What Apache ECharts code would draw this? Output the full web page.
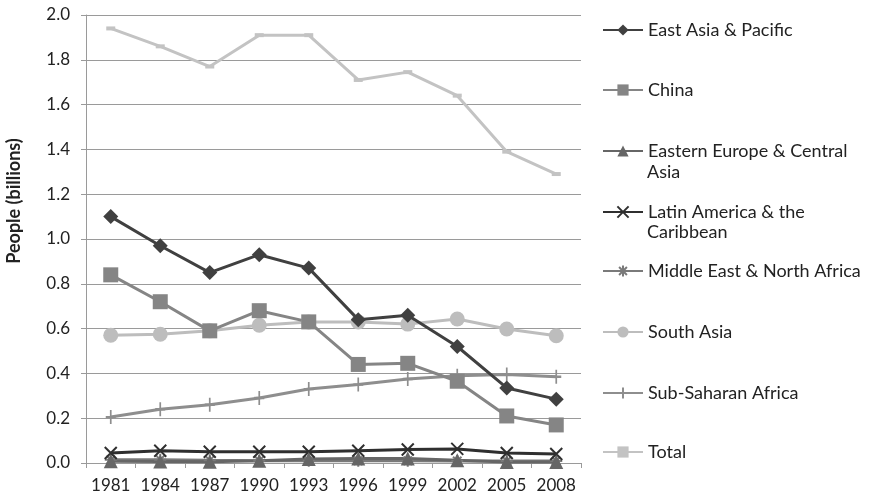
<!DOCTYPE html>
<html><head><meta charset="utf-8">
<script src="https://cdn.jsdelivr.net/npm/echarts@6/dist/echarts.min.js"></script>
<style>html,body{margin:0;padding:0;background:#fff}#c{width:869px;height:500px}</style>
</head><body><div id="c"></div>
<script>
const years = ['1981','1984','1987','1990','1993','1996','1999','2002','2005','2008'];
const eastAsia = [1.10,0.97,0.85,0.93,0.87,0.64,0.66,0.52,0.335,0.285];
const china = [0.84,0.72,0.59,0.68,0.63,0.44,0.445,0.365,0.21,0.17];
const easternEurope = [0.008,0.007,0.006,0.01,0.018,0.02,0.02,0.012,0.005,0.004];
const latinAmerica = [0.045,0.055,0.05,0.05,0.05,0.055,0.06,0.063,0.045,0.04];
const middleEast = [0.014,0.015,0.012,0.01,0.01,0.01,0.01,0.009,0.009,0.009];
const southAsia = [0.57,0.575,0.59,0.615,0.63,0.63,0.62,0.643,0.598,0.568];
const subSaharan = [0.205,0.24,0.26,0.29,0.33,0.35,0.375,0.39,0.395,0.385];
const total = [1.94,1.86,1.77,1.91,1.91,1.71,1.745,1.64,1.39,1.29];
const yTitle = 'People (billions)';

const FONT = 'Lato';
const chart = echarts.init(document.getElementById('c'));
const X_PATH = 'path://M0,0 L10,10 M10,0 L0,10';
const PLUS_PATH = 'path://M5,0 L5,10 M0,5 L10,5';
const STAR_PATH = 'path://M0,5 L10,5 M5,0 L5,10 M1.5,1.5 L8.5,8.5 M8.5,1.5 L1.5,8.5';

function lineSeries(name, data, color, symbol, size, opts) {
  opts = opts || {};
  return {
    name, type: 'line', data, symbol, symbolSize: size,
    showSymbol: true,
    lineStyle: { color, width: 3 },
    itemStyle: opts.stroke ? { color: 'rgba(0,0,0,0)', borderColor: color, borderWidth: 2 } : { color, borderWidth: 0 },
    emphasis: { disabled: true },
    animation: false,
    z: opts.z || 2
  };
}

const series = [
  lineSeries('Total', total, '#c3c3c3', 'rect', [9,4], {z:1}),
  lineSeries('Sub-Saharan Africa', subSaharan, '#8e8e8e', PLUS_PATH, [10,14], {stroke:true}),
  lineSeries('South Asia', southAsia, '#bdbdbd', 'circle', 15),
  lineSeries('Middle East & North Africa', middleEast, '#7a7a7a', STAR_PATH, 12, {stroke:true}),
  lineSeries('Latin America & the Caribbean', latinAmerica, '#2f2f2f', X_PATH, 12, {stroke:true}),
  lineSeries('Eastern Europe & Central Asia', easternEurope, '#666666', 'triangle', 14),
  lineSeries('China', china, '#858585', 'rect', 15),
  lineSeries('East Asia & Pacific', eastAsia, '#404040', 'diamond', 15, {z:3})
];

const legendItems = [
  ['East Asia & Pacific', 30, 'East Asia & Pacific'],
  ['China', 90, 'China'],
  ['Eastern Europe & Central Asia', 151, 'Eastern Europe & Central'],
  ['Latin America & the Caribbean', 212, 'Latin America & the'],
  ['Middle East & North Africa', 271, 'Middle East & North Africa'],
  ['South Asia', 332, 'South Asia'],
  ['Sub-Saharan Africa', 393, 'Sub-Saharan Africa'],
  ['Total', 452, 'Total']
];
const legends = legendItems.map(([name, cy, label]) => ({
  data: [name], left: 602, top: cy - 10, padding: 0,
  itemWidth: 40, itemHeight: 14, itemGap: 0,
  selectedMode: false,
  formatter: () => label,
  textStyle: { fontFamily: FONT, fontSize: 18, color: '#222', lineHeight: 20, padding: [0,0,0,0] }
}));

chart.setOption({
  animation: false,
  backgroundColor: '#fff',
  grid: { left: 86, right: 288, top: 15, bottom: 37, containLabel: false },
  legend: legends,
  graphic: [
    { type: 'text', left: 647, top: 163, style: { text: 'Asia', font: '18px ' + FONT, fill: '#222' } },
    { type: 'text', left: 647, top: 223, style: { text: 'Caribbean', font: '18px ' + FONT, fill: '#222' } },
    { type: 'text', x: 14, y: 201, rotation: Math.PI / 2,
      style: { text: yTitle, font: 'bold 18px ' + FONT, fill: '#222', textAlign: 'center', textVerticalAlign: 'middle' } }
  ],
  xAxis: {
    type: 'category', data: years, boundaryGap: true,
    axisLine: { lineStyle: { color: '#9a9a9a', width: 1 } },
    axisTick: { show: true, length: 5, lineStyle: { color: '#9a9a9a' } },
    axisLabel: { fontFamily: FONT, fontSize: 17, color: '#222', margin: 14, interval: 0, hideOverlap: false }
  },
  yAxis: {
    type: 'value', min: 0, max: 2, interval: 0.2,
    axisLine: { show: true, lineStyle: { color: '#9a9a9a', width: 1 } },
    axisTick: { show: true, length: 5, lineStyle: { color: '#9a9a9a' } },
    splitLine: { lineStyle: { color: '#9a9a9a', width: 1 } },
    axisLabel: { fontFamily: FONT, fontSize: 17, color: '#222', margin: 16, formatter: v => v.toFixed(1) }
  },
  series
});
</script></body></html>
